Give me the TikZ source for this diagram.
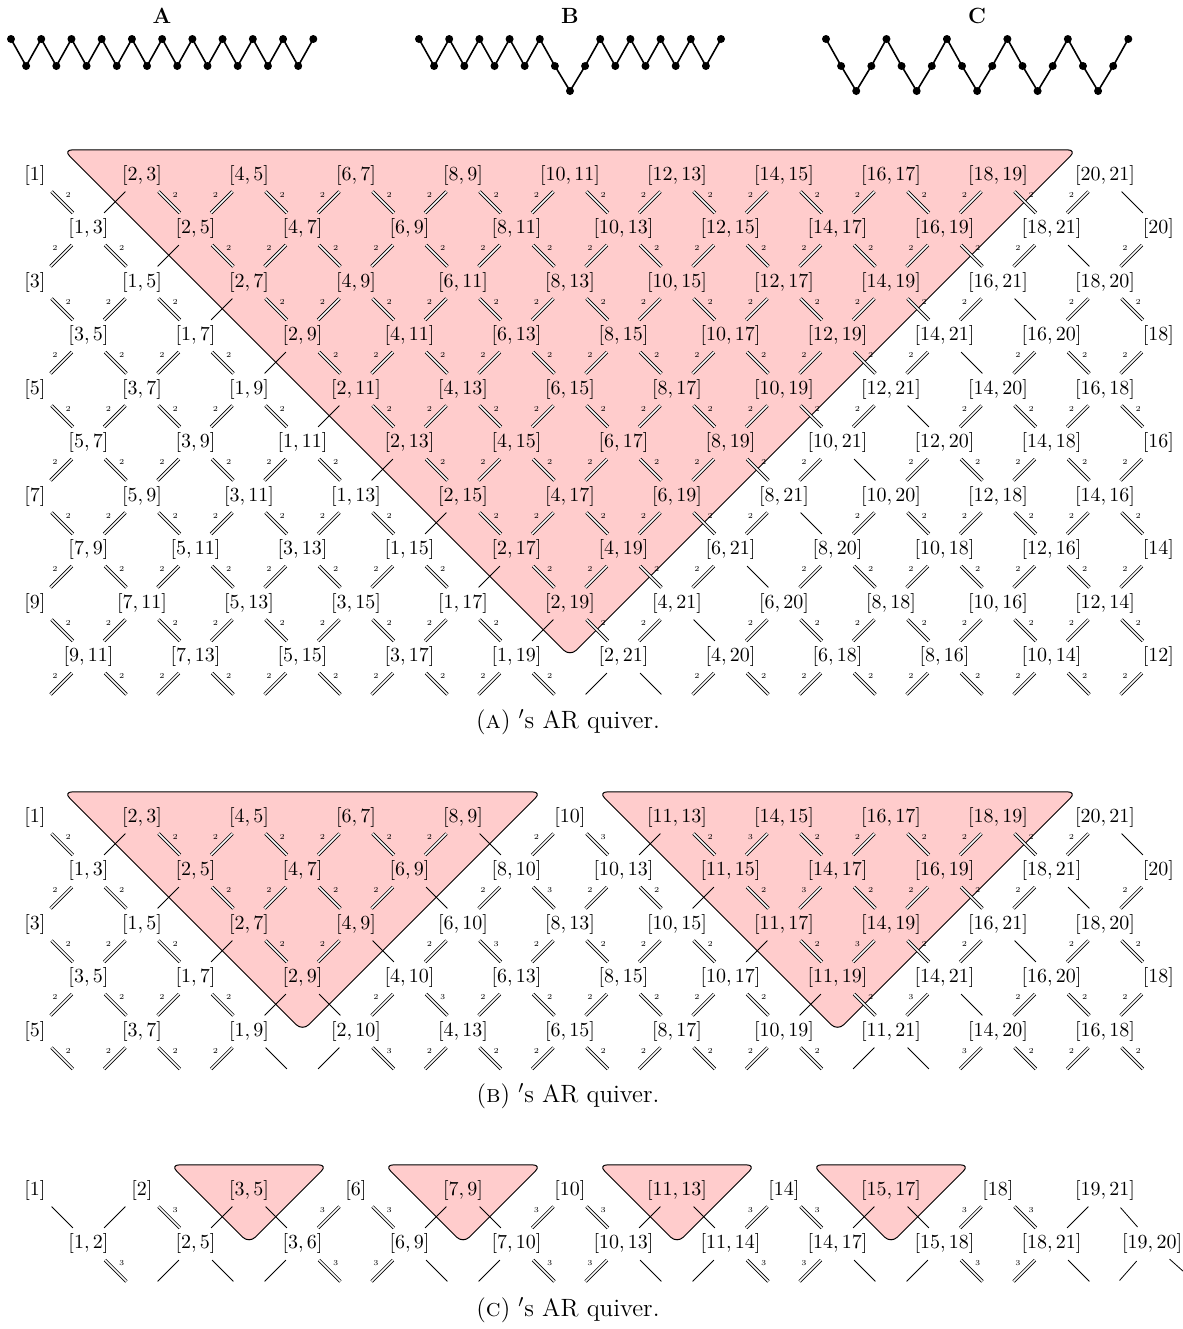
\documentclass[tikz,border=0pt]{standalone}
\usetikzlibrary{calc}
\definecolor{tri}{RGB}{255,204,204}
\tikzset{
  qn/.style={inner sep=0pt, font=\fontsize{10}{12}\selectfont},
  arr/.style={line width=0.4pt, shorten <=11.7pt, shorten >=11pt},
  dblarr/.style={arr, double, double distance=0.8pt},
  mlab/.style={inner sep=0pt, font=\fontsize{3.8}{4}\selectfont},
  trifill/.style={fill=tri, draw=black, line width=0.5pt, rounded corners=4.5pt},
  zdot/.style={circle, fill=black, inner sep=0pt, minimum size=4pt},
  zline/.style={line width=0.8pt},
  capt/.style={font=\fontsize{12.5}{15}\selectfont},
  ttl/.style={font=\fontsize{11}{13}\selectfont\bfseries},
}
\newcommand\qrow[3]{%
  \foreach \t [count=\k from 0] in {#3} {%
    \pgfmathtruncatemacro\cc{2*\k+mod(#2,2)}%
    \node[qn] (#1-\cc-#2) at (\cc,#2) {$\t$};%
  }}
\newcommand\qcoords[3]{%
  \foreach \c in {0,...,#3} {%
    \pgfmathtruncatemacro\zp{mod(\c+#2,2)}%
    \ifnum\zp=0 \coordinate (#1-\c-#2) at (\c,#2);\fi
  }}
\newcommand\qarr[4]{%
  \ifnum#3<0 \else
    \ifnum#3=0 \draw[arr] (#1.center) -- (#2.center);%
    \else
      \ifnum#4=0 \draw[dblarr] (#1.center) -- node[mlab,xshift=3.2pt,yshift=3.4pt]{#3} (#2.center);%
      \else \draw[dblarr] (#1.center) -- node[mlab,xshift=-3.4pt,yshift=3.5pt]{#3} (#2.center);%
      \fi
    \fi
  \fi}
\newcommand\typeA[2]{%
  \ifnum#1=0 \ifnum#2=21 \def\atype{0}\else\def\atype{2}\fi
  \else \ifnum#2=1 \def\atype{0}\else\def\atype{2}\fi\fi}
\newcommand\typeB[2]{%
  \ifnum#1=0
    \ifnum#2=9 \def\atype{0}\else\ifnum#2=21 \def\atype{0}\else\ifnum#2=11 \def\atype{3}\else\def\atype{2}\fi\fi\fi
  \else
    \ifnum#2=1 \def\atype{0}\else\ifnum#2=11 \def\atype{0}\else\ifnum#2=13 \def\atype{3}\else\def\atype{2}\fi\fi\fi
  \fi}
\newcommand\typeC[2]{%
  \pgfmathtruncatemacro\mm{mod(#2,4)}%
  \ifnum#1=0 \ifnum\mm=1 \def\atype{0}\else\def\atype{3}\fi
  \else
    \ifnum#2<0 \def\atype{-1}\else
      \ifnum#2>1 \ifnum\mm=1 \def\atype{3}\else\def\atype{0}\fi
      \else \def\atype{0}\fi
    \fi
  \fi}
\newcommand\qarrows[3]{%
  \foreach \r in {0,...,#2} {%
    \foreach \k in {0,...,10} {%
      \pgfmathtruncatemacro\cc{2*\k+mod(\r,2)}%
      \pgfmathtruncatemacro\rr{\r+1}%
      \ifnum\cc<21
        \pgfmathtruncatemacro\cn{\cc+1}%
        \pgfmathtruncatemacro\s{\cc+\r+1}%
        #3{0}{\s}%
        \qarr{#1-\cc-\r}{#1-\cn-\rr}{\atype}{0}%
      \fi
      \ifnum\cc>0
        \pgfmathtruncatemacro\cn{\cc-1}%
        \pgfmathtruncatemacro\s{\cc-\r-1}%
        #3{1}{\s}%
        \qarr{#1-\cc-\r}{#1-\cn-\rr}{\atype}{1}%
      \fi
    }}}
\begin{document}
\begin{tikzpicture}
\useasboundingbox (0pt,0pt) rectangle (591.5pt,-664.5pt);

% ---------- titles and zigzags ----------
\node[ttl] (ta) at (81pt,-7.75pt) {A};
\node[ttl] (tb) at (285pt,-7.75pt) {B};
\node[ttl] (tc) at (488.5pt,-7.75pt) {C};

\foreach \i in {0,...,20} {%
  \pgfmathsetmacro\zx{5.5+7.5575*\i}%
  \pgfmathtruncatemacro\zp{mod(\i,2)}%
  \ifnum\zp=0 \node[zdot] (za\i) at (\zx pt,-19.5pt) {};%
  \else \node[zdot] (za\i) at (\zx pt,-33pt) {};\fi
}
\foreach \i [evaluate=\i as \j using int(\i+1)] in {0,...,19}
  \draw[zline] (za\i.center) -- (za\j.center);

\foreach \i in {0,...,20} {%
  \pgfmathsetmacro\zx{209.5+7.55*\i}%
  \pgfmathtruncatemacro\zp{mod(\i,2)}%
  \ifnum\i=10 \node[zdot] (zb\i) at (\zx pt,-45.5pt) {};%
  \else\ifnum\zp=0 \node[zdot] (zb\i) at (\zx pt,-19.5pt) {};%
  \else \node[zdot] (zb\i) at (\zx pt,-33pt) {};\fi\fi
}
\foreach \i [evaluate=\i as \j using int(\i+1)] in {0,...,19}
  \draw[zline] (zb\i.center) -- (zb\j.center);

\foreach \i in {0,...,20} {%
  \pgfmathsetmacro\zx{413+7.5575*\i}%
  \pgfmathtruncatemacro\zp{mod(\i,4)}%
  \ifnum\zp=0 \node[zdot] (zc\i) at (\zx pt,-19.5pt) {};%
  \else\ifnum\zp=2 \node[zdot] (zc\i) at (\zx pt,-45.5pt) {};%
  \else \node[zdot] (zc\i) at (\zx pt,-33pt) {};\fi\fi
}
\foreach \i [evaluate=\i as \j using int(\i+1)] in {0,...,19}
  \draw[zline] (zc\i.center) -- (zc\j.center);

% ---------- quiver A ----------
\begin{scope}[shift={(17.5pt,-87.5pt)}, x=26.75pt, y=-26.75pt]
  \draw[trifill] (0.53,-0.47) -- (19.47,-0.47) -- (10,9) -- cycle;
  \qrow{A}{0}{{[1]},{[2,3]},{[4,5]},{[6,7]},{[8,9]},{[10,11]},{[12,13]},{[14,15]},{[16,17]},{[18,19]},{[20,21]}}
  \qrow{A}{1}{{[1,3]},{[2,5]},{[4,7]},{[6,9]},{[8,11]},{[10,13]},{[12,15]},{[14,17]},{[16,19]},{[18,21]},{[20]}}
  \qrow{A}{2}{{[3]},{[1,5]},{[2,7]},{[4,9]},{[6,11]},{[8,13]},{[10,15]},{[12,17]},{[14,19]},{[16,21]},{[18,20]}}
  \qrow{A}{3}{{[3,5]},{[1,7]},{[2,9]},{[4,11]},{[6,13]},{[8,15]},{[10,17]},{[12,19]},{[14,21]},{[16,20]},{[18]}}
  \qrow{A}{4}{{[5]},{[3,7]},{[1,9]},{[2,11]},{[4,13]},{[6,15]},{[8,17]},{[10,19]},{[12,21]},{[14,20]},{[16,18]}}
  \qrow{A}{5}{{[5,7]},{[3,9]},{[1,11]},{[2,13]},{[4,15]},{[6,17]},{[8,19]},{[10,21]},{[12,20]},{[14,18]},{[16]}}
  \qrow{A}{6}{{[7]},{[5,9]},{[3,11]},{[1,13]},{[2,15]},{[4,17]},{[6,19]},{[8,21]},{[10,20]},{[12,18]},{[14,16]}}
  \qrow{A}{7}{{[7,9]},{[5,11]},{[3,13]},{[1,15]},{[2,17]},{[4,19]},{[6,21]},{[8,20]},{[10,18]},{[12,16]},{[14]}}
  \qrow{A}{8}{{[9]},{[7,11]},{[5,13]},{[3,15]},{[1,17]},{[2,19]},{[4,21]},{[6,20]},{[8,18]},{[10,16]},{[12,14]}}
  \qrow{A}{9}{{[9,11]},{[7,13]},{[5,15]},{[3,17]},{[1,19]},{[2,21]},{[4,20]},{[6,18]},{[8,16]},{[10,14]},{[12]}}
  \qcoords{A}{10}{22}
  \qarrows{A}{9}{\typeA}
\end{scope}
\node[capt] (capa) at (284pt,-361pt) {(\textsc{a}) $'$s AR quiver.};

% ---------- quiver B ----------
\begin{scope}[shift={(17.5pt,-408.5pt)}, x=26.75pt, y=-26.75pt]
  \draw[trifill] (0.53,-0.47) -- (9.47,-0.47) -- (5,4) -- cycle;
  \draw[trifill] (10.53,-0.47) -- (19.47,-0.47) -- (15,4) -- cycle;
  \qrow{B}{0}{{[1]},{[2,3]},{[4,5]},{[6,7]},{[8,9]},{[10]},{[11,13]},{[14,15]},{[16,17]},{[18,19]},{[20,21]}}
  \qrow{B}{1}{{[1,3]},{[2,5]},{[4,7]},{[6,9]},{[8,10]},{[10,13]},{[11,15]},{[14,17]},{[16,19]},{[18,21]},{[20]}}
  \qrow{B}{2}{{[3]},{[1,5]},{[2,7]},{[4,9]},{[6,10]},{[8,13]},{[10,15]},{[11,17]},{[14,19]},{[16,21]},{[18,20]}}
  \qrow{B}{3}{{[3,5]},{[1,7]},{[2,9]},{[4,10]},{[6,13]},{[8,15]},{[10,17]},{[11,19]},{[14,21]},{[16,20]},{[18]}}
  \qrow{B}{4}{{[5]},{[3,7]},{[1,9]},{[2,10]},{[4,13]},{[6,15]},{[8,17]},{[10,19]},{[11,21]},{[14,20]},{[16,18]}}
  \qcoords{B}{5}{22}
  \qarrows{B}{4}{\typeB}
\end{scope}
\node[capt] (capb) at (284pt,-548pt) {(\textsc{b}) $'$s AR quiver.};

% ---------- quiver C ----------
\begin{scope}[shift={(17.5pt,-595pt)}, x=26.75pt, y=-26.75pt]
  \draw[trifill] (2.53,-0.47) -- (5.47,-0.47) -- (4,1) -- cycle;
  \draw[trifill] (6.53,-0.47) -- (9.47,-0.47) -- (8,1) -- cycle;
  \draw[trifill] (10.53,-0.47) -- (13.47,-0.47) -- (12,1) -- cycle;
  \draw[trifill] (14.53,-0.47) -- (17.47,-0.47) -- (16,1) -- cycle;
  \qrow{C}{0}{{[1]},{[2]},{[3,5]},{[6]},{[7,9]},{[10]},{[11,13]},{[14]},{[15,17]},{[18]},{[19,21]}}
  \qrow{C}{1}{{[1,2]},{[2,5]},{[3,6]},{[6,9]},{[7,10]},{[10,13]},{[11,14]},{[14,17]},{[15,18]},{[18,21]}}
  \node[qn, xshift=-3.2pt] (C-21-1) at (21,1) {$[19,20]$};
  \qcoords{C}{2}{22}
  \qarrows{C}{1}{\typeC}
  \qarr{C-21-1}{C-22-2}{0}{0}
\end{scope}
\node[capt] (capc) at (284pt,-655pt) {(\textsc{c}) $'$s AR quiver.};
\end{tikzpicture}
\end{document}
